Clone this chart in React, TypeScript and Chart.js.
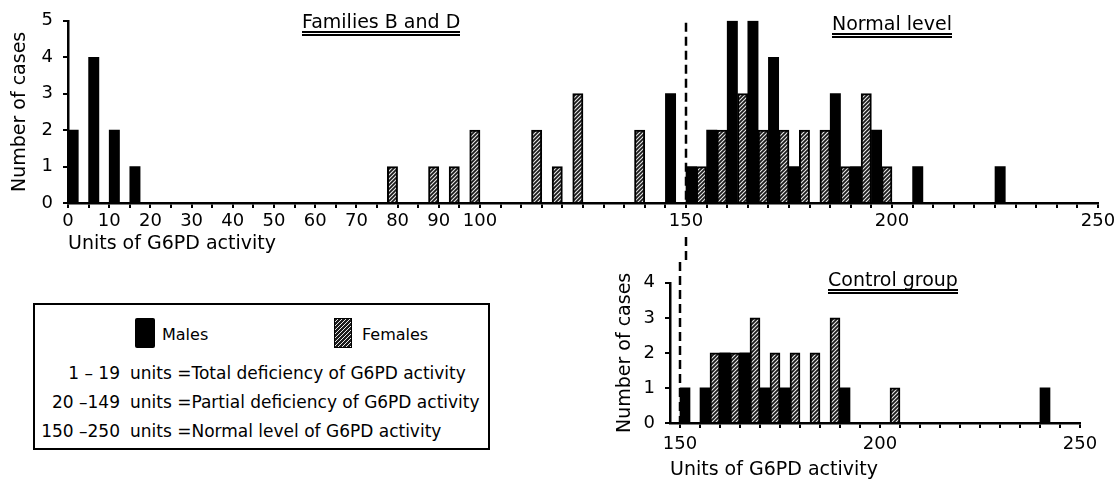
import React, { useEffect, useRef } from 'react';
import { Chart, registerables } from 'chart.js';

Chart.register(...registerables);

const FONT = "'DejaVu Sans', sans-serif";

// Histogram bins are 5 units of G6PD activity; within each bin the male bar sits in
// the first half and the female bar in the second half.
const binWidth = 5;

// Families B and D
const familyMaleBins = [0, 5, 10, 15, 145, 150, 155, 160, 165, 170, 175, 185, 190, 195, 205, 225];
const familyMaleCounts = [2, 4, 2, 1, 3, 1, 2, 5, 5, 4, 1, 3, 1, 2, 1, 1];
const familyFemaleBins = [75, 85, 90, 95, 110, 115, 120, 135, 150, 155, 160, 165, 170, 175, 180, 185, 190, 195];
const familyFemaleCounts = [1, 1, 1, 2, 2, 1, 3, 2, 1, 2, 3, 2, 2, 2, 2, 1, 3, 1];

// Control group
const controlMaleBins = [150, 155, 160, 165, 170, 175, 190, 240];
const controlMaleCounts = [1, 1, 2, 2, 1, 1, 1, 1];
const controlFemaleBins = [155, 160, 165, 170, 175, 180, 185, 200];
const controlFemaleCounts = [2, 2, 3, 2, 2, 2, 3, 1];

// Axes
const familyXRange = [0, 250];
const controlXRange = [147.5, 250];
const familyYMax = 5;
const controlYMax = 4;
const familyTickLabels = [0, 10, 20, 30, 40, 50, 60, 70, 80, 90, 100, 150, 200, 250];
const controlTickLabels = [150, 200, 250];
const minorTickStep = 5;
const thresholdValue = 150;

const legendRanges = ['1 – 19', '20 –149', '150 –250'];
const legendMeanings = [
  'units =Total deficiency of G6PD activity',
  'units =Partial deficiency of G6PD activity',
  'units =Normal level of G6PD activity',
];

function toPoints(bins: number[], counts: number[], fraction: number) {
  return bins.map((b, i) => ({ x: b + binWidth * fraction, y: counts[i] }));
}

function tickValues(from: number, to: number) {
  const out: { value: number }[] = [];
  const start = Math.ceil(from / minorTickStep) * minorTickStep;
  for (let v = start; v <= to + 1e-9; v += minorTickStep) out.push({ value: v });
  return out;
}

function makeHatch(ctx: CanvasRenderingContext2D) {
  const c = document.createElement('canvas');
  c.width = 4;
  c.height = 4;
  const g = c.getContext('2d') as CanvasRenderingContext2D;
  g.fillStyle = '#1a1a1a';
  g.fillRect(0, 0, 4, 4);
  g.strokeStyle = '#e8e8e8';
  g.lineWidth = 1.1;
  g.beginPath();
  g.moveTo(0, 4);
  g.lineTo(4, 0);
  g.moveTo(-1, 1);
  g.lineTo(1, -1);
  g.moveTo(3, 5);
  g.lineTo(5, 3);
  g.stroke();
  return ctx.createPattern(c, 'repeat') as CanvasPattern;
}

type HistOpts = {
  male: { x: number; y: number }[];
  female: { x: number; y: number }[];
  xRange: number[];
  yMax: number;
  labels: number[];
  yAxisWidth: number;
  xAxisHeight: number;
  padding: { top: number; right: number; bottom: number; left: number };
  yTitlePad: number;
  xTitlePad: number;
  xTickPad: number;
  lineFromTop: boolean;
};

function thresholdPlugin(lineFromTop: boolean, yMax: number) {
  return {
    id: 'thresholdLine',
    afterDatasetsDraw(chart: any) {
      const { ctx, chartArea } = chart;
      const x = chart.scales.x.getPixelForValue(thresholdValue);
      ctx.save();
      ctx.strokeStyle = '#000';
      ctx.lineWidth = 2.5;
      ctx.setLineDash([9, 5]);
      ctx.beginPath();
      if (lineFromTop) {
        ctx.moveTo(x, chart.scales.y.getPixelForValue(yMax) + 2);
        ctx.lineTo(x, chartArea.bottom);
        ctx.moveTo(x, chartArea.bottom + 34);
        ctx.lineTo(x, chart.height);
      } else {
        ctx.moveTo(x, 0);
        ctx.lineTo(x, chartArea.bottom);
      }
      ctx.stroke();
      ctx.restore();
    },
  };
}

function histogramConfig(o: HistOpts, hatch: CanvasPattern): any {
  const barCommon = {
    grouped: false,
    barPercentage: 1,
    categoryPercentage: 1,
  };
  return {
    type: 'bar',
    data: {
      datasets: [
        { label: 'Males', data: o.male, backgroundColor: '#000', borderWidth: 0, ...barCommon },
        { label: 'Females', data: o.female, backgroundColor: hatch, borderColor: '#000', borderWidth: 2, ...barCommon },
      ],
    },
    options: {
      animation: false,
      responsive: false,
      maintainAspectRatio: false,
      layout: { padding: o.padding },
      plugins: { legend: { display: false }, tooltip: { enabled: false } },
      scales: {
        x: {
          type: 'linear',
          min: o.xRange[0],
          max: o.xRange[1],
          offset: false,
          afterBuildTicks: (s: any) => {
            s.ticks = tickValues(o.xRange[0], o.xRange[1]);
          },
          afterFit: (s: any) => {
            s.height = o.xAxisHeight;
          },
          ticks: {
            autoSkip: false,
            maxRotation: 0,
            minRotation: 0,
            padding: o.xTickPad,
            color: '#000',
            font: { family: FONT, size: 18 },
            callback: (v: number) => (o.labels.includes(v) ? String(v) : ''),
          },
          grid: {
            display: true,
            drawOnChartArea: false,
            drawTicks: true,
            tickLength: 5,
            color: '#000',
            lineWidth: 2,
            offset: false,
          },
          border: { display: true, color: '#000', width: 2.5 },
          title: {
            display: true,
            text: 'Units of G6PD activity',
            align: 'start',
            color: '#000',
            font: { family: FONT, size: 19, lineHeight: 1.2 },
            padding: { top: 0, bottom: o.xTitlePad },
          },
        },
        y: {
          min: 0,
          max: o.yMax,
          afterFit: (s: any) => {
            s.width = o.yAxisWidth;
          },
          ticks: {
            stepSize: 1,
            padding: 10,
            color: '#000',
            font: { family: FONT, size: 18 },
          },
          grid: {
            display: true,
            drawOnChartArea: false,
            drawTicks: true,
            tickLength: 5,
            color: '#000',
            lineWidth: 2,
          },
          border: { display: true, color: '#000', width: 2.5 },
          title: {
            display: true,
            text: 'Number of cases',
            color: '#000',
            font: { family: FONT, size: 19, lineHeight: 1.2 },
            padding: { top: o.yTitlePad, bottom: 0 },
          },
        },
      },
    },
    plugins: [thresholdPlugin(o.lineFromTop, o.yMax)],
  };
}

const hatchCss =
  'repeating-linear-gradient(135deg, #1a1a1a 0px, #1a1a1a 1.8px, #e8e8e8 1.8px, #e8e8e8 2.8px)';

const underlined: React.CSSProperties = {
  display: 'inline-block',
  borderBottom: '5px double #000',
  lineHeight: 1,
};

export default function App() {
  const topRef = useRef<HTMLCanvasElement>(null);
  const bottomRef = useRef<HTMLCanvasElement>(null);

  useEffect(() => {
    const topCanvas = topRef.current as HTMLCanvasElement;
    const bottomCanvas = bottomRef.current as HTMLCanvasElement;
    const topChart = new Chart(
      topCanvas,
      histogramConfig(
        {
          male: toPoints(familyMaleBins, familyMaleCounts, 0.25),
          female: toPoints(familyFemaleBins, familyFemaleCounts, 0.75),
          xRange: familyXRange,
          yMax: familyYMax,
          labels: familyTickLabels,
          yAxisWidth: 68,
          xAxisHeight: 59,
          padding: { top: 20, right: 21, bottom: 0, left: 0 },
          yTitlePad: 8.6,
          xTitlePad: 7,
          xTickPad: 3,
          lineFromTop: true,
        },
        makeHatch(topCanvas.getContext('2d') as CanvasRenderingContext2D)
      )
    );
    const bottomChart = new Chart(
      bottomCanvas,
      histogramConfig(
        {
          male: toPoints(controlMaleBins, controlMaleCounts, 0.25),
          female: toPoints(controlFemaleBins, controlFemaleCounts, 0.75),
          xRange: controlXRange,
          yMax: controlYMax,
          labels: controlTickLabels,
          yAxisWidth: 90,
          xAxisHeight: 58,
          padding: { top: 16, right: 39, bottom: 0, left: 0 },
          yTitlePad: 33.6,
          xTitlePad: 0,
          xTickPad: 6,
          lineFromTop: false,
        },
        makeHatch(bottomCanvas.getContext('2d') as CanvasRenderingContext2D)
      )
    );
    return () => {
      topChart.destroy();
      bottomChart.destroy();
    };
  }, []);

  const text = (extra: React.CSSProperties): React.CSSProperties => ({
    position: 'absolute',
    fontFamily: FONT,
    color: '#000',
    whiteSpace: 'nowrap',
    lineHeight: 1,
    ...extra,
  });

  return (
    <div
      style={{
        position: 'absolute',
        left: 0,
        top: 0,
        width: 1119,
        height: 481,
        background: '#fff',
        overflow: 'hidden',
      }}
    >
      <canvas ref={topRef} width={1119} height={262} style={{ position: 'absolute', left: 0, top: 0 }} />
      <canvas ref={bottomRef} width={539} height={219} style={{ position: 'absolute', left: 580, top: 262 }} />

      <div style={text({ left: 302, top: 12, fontSize: 19 })}>
        <span style={underlined}>Families B and D</span>
      </div>
      <div style={text({ left: 832, top: 14, fontSize: 19 })}>
        <span style={underlined}>Normal level</span>
      </div>
      <div style={text({ left: 828, top: 270, fontSize: 19 })}>
        <span style={underlined}>Control group</span>
      </div>

      <div
        style={{
          position: 'absolute',
          left: 33,
          top: 303,
          width: 453,
          height: 143,
          border: '2px solid #000',
        }}
      />
      <div style={{ position: 'absolute', left: 135, top: 318, width: 20, height: 30, background: '#000', borderRadius: 2 }} />
      <div style={text({ left: 162, top: 327, fontSize: 16 })}>Males</div>
      <div
        style={{
          position: 'absolute',
          left: 334,
          top: 318,
          width: 16,
          height: 28,
          background: hatchCss,
          border: '1.5px solid #000',
        }}
      />
      <div style={text({ left: 362, top: 327, fontSize: 16 })}>Females</div>

      {legendRanges.map((r, i) => (
        <React.Fragment key={r}>
          <div style={text({ left: 20, width: 100, textAlign: 'right', top: 364.6 + i * 29, fontSize: 17 })}>{r}</div>
          <div style={text({ left: 130, top: 364.6 + i * 29, fontSize: 17 })}>{legendMeanings[i]}</div>
        </React.Fragment>
      ))}
    </div>
  );
}
